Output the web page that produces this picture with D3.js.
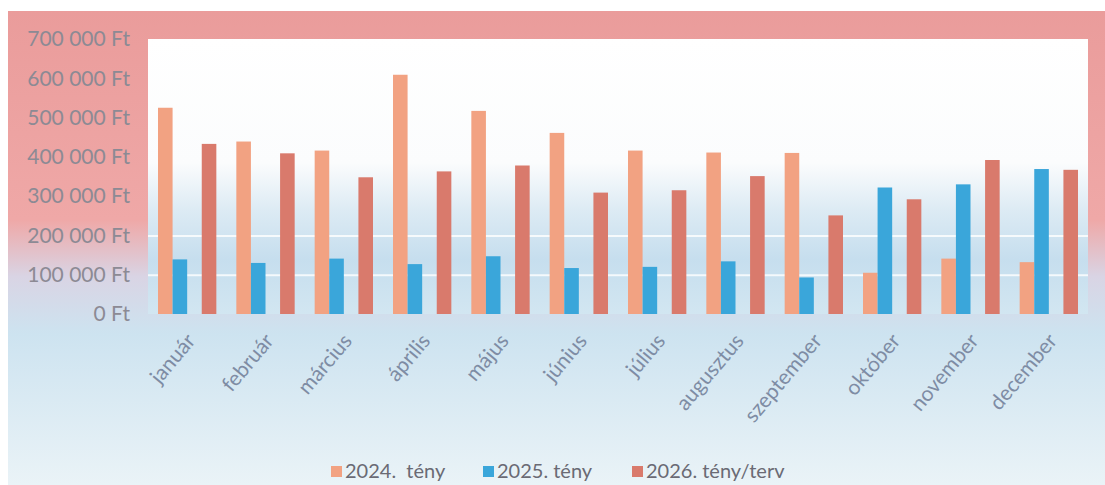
<!DOCTYPE html>
<head>
  <meta charset="utf-8">
  <style>
    body { margin: 0; background: #fff; }
    text { font-family: Lato, "Open Sans", sans-serif; }
    .axis path, .axis line { display: none; }
    .axis--y text { fill: #8c8a94; font-size: 21px; }
    .axis--x text { fill: #7e8ca4; font-size: 21px; }
    .grid line { stroke: #ffffff; stroke-width: 2; opacity: 0.8; }
    .grid path { display: none; }
    .legend text { fill: #6a6a74; font-size: 20px; }
  </style>
  <script src="https://d3js.org/d3.v7.min.js"></script>
</head>
<body>
<script>
  var months = ['január', 'február', 'március', 'április', 'május', 'június',
                'július', 'augusztus', 'szeptember', 'október', 'november', 'december'];
  var series = ['2024.  tény', '2025. tény', '2026. tény/terv'];
  var colors = ['#f2a282', '#3aa6da', '#d97a6c'];
  var slots = [0, 1, 3];   // 2026 bar sits one slot further right
  var v2024 = [525000, 439000, 416000, 609000, 517000, 461000, 416000, 411000, 410000, 105000, 141000, 132000];
  var v2025 = [139000, 130000, 141000, 127000, 147000, 117000, 120000, 134000, 93000, 322000, 330000, 369000];
  var v2026 = [433000, 409000, 348000, 363000, 378000, 309000, 315000, 351000, 251000, 292000, 392000, 367000];
  var yTicks = [0, 100000, 200000, 300000, 400000, 500000, 600000, 700000];

  var values = [v2024, v2025, v2026];
  var width = 1105, height = 485;
  var plot = {left: 148, right: 1088, top: 39, bottom: 314};

  var svg = d3.select("body").append("svg")
      .attr("width", width)
      .attr("height", height);

  var defs = svg.append("defs");
  var g1 = defs.append("linearGradient").attr("id", "frameGrad")
      .attr("x1", 0).attr("y1", 0).attr("x2", 0).attr("y2", 1);
  g1.append("stop").attr("offset", "0%").attr("stop-color", "#ea9c9b");
  g1.append("stop").attr("offset", "44%").attr("stop-color", "#efa8a7");
  g1.append("stop").attr("offset", "56%").attr("stop-color", "#d9d4e4");
  g1.append("stop").attr("offset", "68%").attr("stop-color", "#cde3f0");
  g1.append("stop").attr("offset", "100%").attr("stop-color", "#eaf3f7");

  var g2 = defs.append("linearGradient").attr("id", "plotGrad")
      .attr("x1", 0).attr("y1", 0).attr("x2", 0).attr("y2", 1);
  g2.append("stop").attr("offset", "0%").attr("stop-color", "#ffffff");
  g2.append("stop").attr("offset", "45%").attr("stop-color", "#fbfcfd");
  g2.append("stop").attr("offset", "62%").attr("stop-color", "#ddebf4");
  g2.append("stop").attr("offset", "80%").attr("stop-color", "#c6deee");
  g2.append("stop").attr("offset", "100%").attr("stop-color", "#d2e6f1");

  // background
  svg.append("rect")
      .attr("x", 8).attr("y", 11)
      .attr("width", width - 8).attr("height", height - 11)
      .attr("fill", "url(#frameGrad)");

  svg.append("rect")
      .attr("x", plot.left).attr("y", plot.top)
      .attr("width", plot.right - plot.left).attr("height", plot.bottom - plot.top)
      .attr("fill", "url(#plotGrad)");

  var xScale = d3.scaleBand()
      .domain(months)
      .range([plot.left, plot.right]);

  var xSub = d3.scaleBand()
      .domain([0, 1, 2, 3])
      .range([10, xScale.bandwidth() - 10]);

  var yScale = d3.scaleLinear()
      .domain([0, 700000])
      .range([plot.bottom, plot.top]);

  var fmt = function(d) {
    return d3.format(",")(d).replace(/,/g, " ") + " Ft";
  };

  // gridlines
  svg.append("g")
      .attr("class", "grid")
      .attr("transform", "translate(" + plot.left + ",0)")
      .call(d3.axisLeft(yScale).tickValues(yTicks.slice(1, 3))
        .tickSize(-(plot.right - plot.left)).tickFormat(""));

  // axis-y
  svg.append("g")
      .attr("class", "axis axis--y")
      .attr("transform", "translate(" + (plot.left - 15) + ",0)")
      .call(d3.axisLeft(yScale).tickValues(yTicks).tickSize(0).tickFormat(fmt));

  // bars
  values.forEach(function(vals, s) {
    svg.append("g").selectAll("rect")
      .data(vals)
      .enter().append("rect")
        .attr("x", function(d, i) { return xScale(months[i]) + xSub(slots[s]); })
        .attr("y", function(d) { return yScale(d); })
        .attr("width", xSub.bandwidth())
        .attr("height", function(d) { return yScale(0) - yScale(d); })
        .attr("fill", colors[s]);
  });

  // axis-x
  var xAxis = svg.append("g")
      .attr("class", "axis axis--x")
      .attr("transform", "translate(0," + plot.bottom + ")")
      .call(d3.axisBottom(xScale).tickSize(0));

  xAxis.selectAll("text")
      .attr("text-anchor", "end")
      .attr("x", 0)
      .attr("y", 0)
      .attr("dy", "0.7em")
      .attr("transform", "translate(-2,18) rotate(-50)");

  // legend
  var legend = svg.append("g").attr("class", "legend");
  var legendX = [331, 483, 632];
  series.forEach(function(name, s) {
    legend.append("rect")
      .attr("x", legendX[s]).attr("y", 466)
      .attr("width", 11).attr("height", 11)
      .attr("fill", colors[s]);
    legend.append("text")
      .attr("x", legendX[s] + 14).attr("y", 478)
      .attr("xml:space", "preserve")
      .style("white-space", "pre")
      .text(name);
  });
</script>
</body>
</html>
